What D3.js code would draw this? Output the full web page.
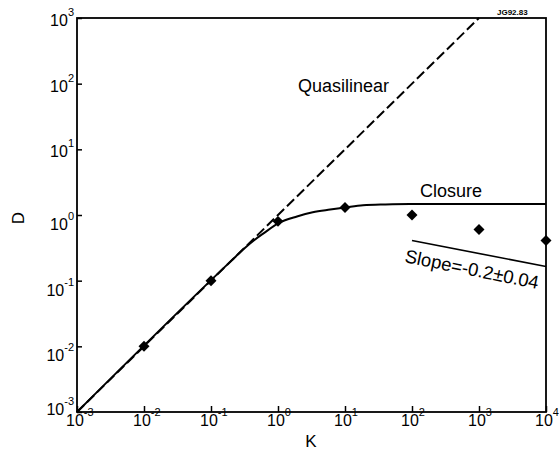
<!DOCTYPE html>
<meta charset="utf-8">
<style>
body{
  margin: 0px;
  background: white;
  font-family: "Liberation Sans", Arial, Helvetica, sans-serif;
}
.tick line{
  stroke: black;
  stroke-width: 1.5px;
}
.lbl{
  font-size: 16px;
}
.note{
  font-size: 18px;
}
</style>

<div id='chart'></div>

<script src="https://cdn.jsdelivr.net/npm/d3@7"></script>
<script>

// decades on both axes
var kTicks = [-3, -2, -1, 0, 1, 2, 3, 4],
    dTicks = [-3, -2, -1, 0, 1, 2, 3]

// measured points (K, D)
var pointsK = [0.01, 0.1, 1, 10, 100, 1000, 10000],
    pointsD = [0.01, 0.1, 0.8, 1.3, 1.0, 0.6, 0.41]

// closure curve
var closureK = [0.001, 0.2, 0.32, 0.45, 0.6, 1.07, 1.92, 3.3, 6, 10, 18.6, 40, 93, 10000],
    closureD = [0.001, 0.2, 0.315, 0.42, 0.52, 0.77, 0.95, 1.1, 1.21, 1.3, 1.41, 1.45, 1.47, 1.47]

// quasilinear D = K
var quasiK = [0.001, 1000],
    quasiD = [0.001, 1000]

// fitted slope segment
var slopeK = [100, 10000],
    slopeD = [0.41, 0.164]

var width = 559,
    height = 459,
    pLeft = 77, pRight = 546, pTop = 18, pBottom = 412

var svg = d3.select('#chart')
  .append('svg')
    .attr('width', width)
    .attr('height', height)

var x = d3.scaleLog().domain([1e-3, 1e4]).range([pLeft, pRight])
var y = d3.scaleLog().domain([1e-3, 1e3]).range([pBottom, pTop])

var line = d3.line()
    .x(function(d){ return x(d[0]) })
    .y(function(d){ return y(d[1]) })

// ticks, pointing inward
svg.append('g')
    .attr('transform', 'translate(0,' + pBottom + ')')
    .call(d3.axisBottom(x).tickValues(kTicks.map(function(e){ return Math.pow(10, e) }))
      .tickSize(-6).tickSizeOuter(0).tickFormat(''))
    .select('.domain').remove()

svg.append('g')
    .attr('transform', 'translate(' + pLeft + ',0)')
    .call(d3.axisLeft(y).tickValues(dTicks.map(function(e){ return Math.pow(10, e) }))
      .tickSize(-5).tickSizeOuter(0).tickFormat(''))
    .select('.domain').remove()

// frame
svg.append('rect')
    .attr('x', pLeft).attr('y', pTop)
    .attr('width', pRight - pLeft).attr('height', pBottom - pTop)
    .style('fill', 'none').style('stroke', 'black').style('stroke-width', 1.8)

// tick labels 10^n
var xl = svg.selectAll('.xl').data(kTicks).enter()
  .append('text')
    .attr('class', 'lbl xl')
    .attr('x', function(d){ return x(Math.pow(10, d)) - 11 })
    .attr('y', 426)
xl.append('tspan').text('10')
xl.append('tspan').attr('dy', -10).style('font-size', '11px')
    .text(function(d){ return d })

// the lowest label sits up against the corner, the upper ones a bit higher
var yl = svg.selectAll('.yl').data(dTicks).enter()
  .append('text')
    .attr('class', 'lbl yl')
    .attr('text-anchor', 'end')
    .attr('x', 74)
    .attr('y', function(d){
      var off = d === -3 ? 3 : (d > 0 ? 8 : 15)
      return y(Math.pow(10, d)) + off })
yl.append('tspan').text('10')
yl.append('tspan').attr('dy', -10).style('font-size', '11px')
    .text(function(d){ return d })

// axis titles
svg.append('text').attr('class', 'lbl')
    .attr('x', 311).attr('y', 447).attr('text-anchor', 'middle')
    .style('font-size', '17px').text('K')

svg.append('text').attr('class', 'lbl')
    .attr('transform', 'translate(24,218) rotate(-90)')
    .attr('text-anchor', 'middle')
    .style('font-size', '17px').text('D')

// curves
svg.append('path')
    .datum(d3.zip(quasiK, quasiD))
    .attr('d', line)
    .style('fill', 'none').style('stroke', 'black')
    .style('stroke-width', 2).style('stroke-dasharray', '10,4')

svg.append('path')
    .datum(d3.zip(closureK, closureD))
    .attr('d', line.curve(d3.curveMonotoneX))
    .style('fill', 'none').style('stroke', 'black').style('stroke-width', 2)

line.curve(d3.curveLinear)

svg.append('path')
    .datum(d3.zip(slopeK, slopeD))
    .attr('d', line)
    .style('fill', 'none').style('stroke', 'black').style('stroke-width', 1.6)

// points
svg.selectAll('.pt')
    .data(d3.zip(pointsK, pointsD))
  .enter().append('path')
    .attr('class', 'pt')
    .attr('d', d3.symbol(d3.symbolSquare, 60))
    .attr('transform', function(d){
      return 'translate(' + x(d[0]) + ',' + y(d[1]) + ') rotate(45)' })
    .style('fill', 'black')

// annotations
svg.append('text').attr('class', 'note')
    .attr('x', 298).attr('y', 92).text('Quasilinear')

svg.append('text').attr('class', 'note')
    .attr('x', 420).attr('y', 197).text('Closure')

svg.append('text').attr('class', 'note')
    .attr('transform', 'translate(404,262) rotate(11.5)')
    .style('font-size', '18.5px')
    .text('Slope=-0.2±0.04')

svg.append('text')
    .attr('x', 497).attr('y', 15)
    .style('font-size', '8px').style('font-weight', 'bold')
    .text('JG92.83')

</script>
